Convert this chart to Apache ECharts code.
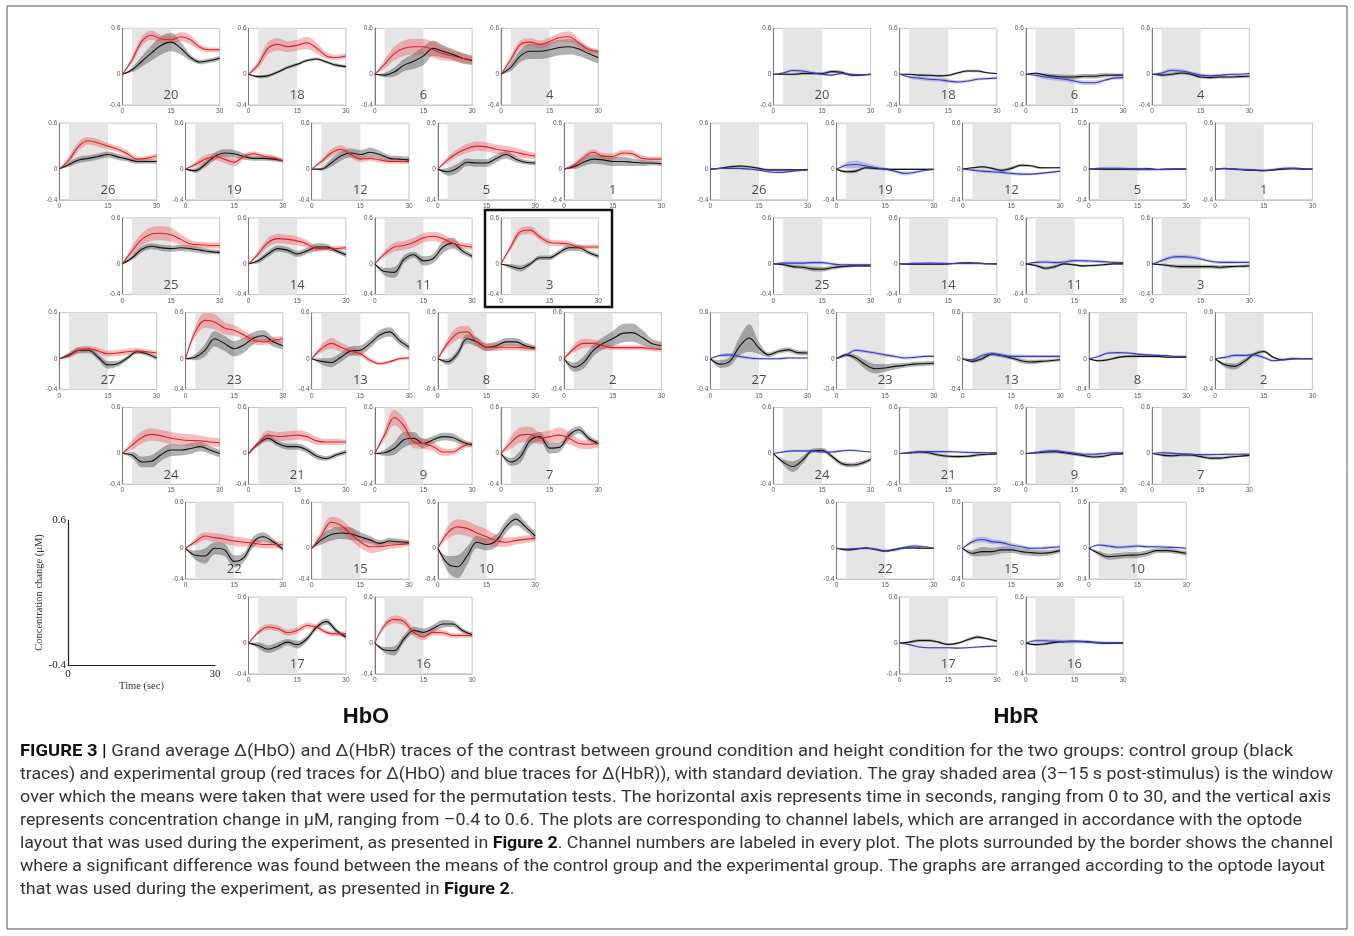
<!DOCTYPE html>
<html><head><meta charset="utf-8">
<script src="https://cdn.jsdelivr.net/npm/echarts@6/dist/echarts.min.js"></script>
<style>html,body{margin:0;padding:0;background:#fff;}#c{width:1354px;height:936px;}</style>
</head><body><div id="c"></div>
<script>
// ---------------- DATA ----------------
const timeSec = [0,3,6,9,12,15,18,21,24,27,30];
const stimWindow = [3,15];
const channels = [20,18,6,4, 26,19,12,5,1, 25,14,11,3, 27,23,13,8,2, 24,21,9,7, 22,15,10, 17,16];
const significantHbO = [3];
const yTickValues = [-0.4,0,0.6];
const yTickLabels = ['-0.4','0','0.6'];
const xTickValues = [0,15,30];
const xTickLabels = ['0','15','30'];
const panelTitles = ['HbO','HbR'];

const hboCtrlMean = [
[0,0.06,0.17,0.28,0.38,0.42,0.34,0.22,0.16,0.18,0.21],
[0,-0.03,-0.02,0.03,0.09,0.13,0.18,0.2,0.16,0.12,0.1],
[0,-0.01,0.03,0.12,0.17,0.24,0.34,0.3,0.26,0.21,0.18],
[0,0.09,0.24,0.3,0.3,0.32,0.35,0.36,0.33,0.27,0.22],
[0,0.06,0.12,0.14,0.165,0.19,0.16,0.13,0.1,0.1,0.1],
[0,-0.02,0.06,0.165,0.21,0.2,0.165,0.14,0.14,0.13,0.11],
[0,0,0.08,0.17,0.21,0.19,0.22,0.19,0.14,0.13,0.12],
[0,-0.035,0.01,0.09,0.08,0.08,0.14,0.19,0.13,0.09,0.08],
[0,0.03,0.09,0.13,0.12,0.1,0.1,0.09,0.08,0.08,0.07],
[0,0.08,0.19,0.23,0.21,0.2,0.21,0.2,0.18,0.16,0.15],
[0,0.04,0.13,0.2,0.18,0.13,0.17,0.22,0.22,0.17,0.12],
[0,-0.1,-0.11,0.06,0.12,0.04,0.07,0.22,0.27,0.17,0.1],
[0,-0.03,-0.06,0.0,0.08,0.08,0.15,0.21,0.21,0.15,0.1],
[0,0.05,0.11,0.11,0.02,-0.08,-0.065,0.01,0.09,0.065,0.01],
[0,0.02,0.11,0.26,0.2,0.13,0.18,0.27,0.3,0.22,0.17],
[0,-0.035,-0.05,0.02,0.1,0.11,0.2,0.31,0.35,0.24,0.15],
[0,-0.04,0.065,0.26,0.22,0.15,0.17,0.22,0.22,0.17,0.14],
[0,-0.11,-0.05,0.11,0.2,0.26,0.33,0.34,0.28,0.2,0.17],
[0,-0.02,-0.11,-0.1,-0.013,0.045,0.045,0.065,0.09,0.045,0.0],
[0,0.13,0.2,0.13,0.09,0.09,0.045,-0.035,-0.065,-0.02,0.02],
[0,0.01,0.065,0.18,0.2,0.13,0.18,0.22,0.21,0.15,0.11],
[0,-0.11,-0.04,0.17,0.22,0.07,0.08,0.24,0.31,0.2,0.13],
[0,-0.09,-0.1,0.0,-0.02,-0.17,-0.12,0.086,0.15,0.086,-0.01],
[0,0.11,0.18,0.2,0.19,0.15,0.11,0.065,0.095,0.086,0.075],
[0,-0.2,-0.24,-0.1,0.08,0.05,0.1,0.28,0.38,0.28,0.16],
[0,-0.03,-0.08,-0.04,0.013,-0.02,0.057,0.21,0.28,0.165,0.08],
[0,-0.09,-0.1,0.057,0.165,0.14,0.19,0.25,0.25,0.165,0.11]
];
const hboCtrlSd = [
[0,0.03,0.07,0.1,0.12,0.12,0.08,0.04,0.03,0.03,0.03],
[0,0.02,0.02,0.02,0.02,0.02,0.02,0.02,0.02,0.02,0.02],
[0,0.03,0.06,0.08,0.1,0.12,0.1,0.08,0.07,0.07,0.06],
[0,0.05,0.08,0.1,0.1,0.1,0.1,0.1,0.09,0.08,0.08],
[0,0.03,0.04,0.04,0.04,0.04,0.04,0.03,0.03,0.03,0.03],
[0,0.03,0.04,0.05,0.05,0.05,0.04,0.03,0.03,0.03,0.02],
[0,0.02,0.05,0.06,0.06,0.06,0.06,0.05,0.04,0.04,0.04],
[0,0.05,0.06,0.05,0.05,0.05,0.05,0.05,0.04,0.03,0.03],
[0,0.03,0.05,0.06,0.06,0.06,0.06,0.05,0.04,0.03,0.03],
[0,0.03,0.04,0.04,0.04,0.04,0.04,0.04,0.04,0.03,0.03],
[0,0.03,0.04,0.04,0.04,0.04,0.04,0.05,0.04,0.03,0.03],
[0,0.05,0.07,0.05,0.04,0.06,0.06,0.08,0.07,0.04,0.03],
[0,0.03,0.04,0.03,0.03,0.03,0.03,0.04,0.04,0.03,0.03],
[0,0.03,0.04,0.04,0.04,0.05,0.04,0.03,0.03,0.03,0.03],
[0,0.04,0.08,0.1,0.1,0.1,0.1,0.08,0.07,0.06,0.05],
[0,0.04,0.06,0.06,0.06,0.06,0.06,0.06,0.06,0.05,0.04],
[0,0.04,0.05,0.06,0.06,0.05,0.05,0.05,0.05,0.04,0.03],
[0,0.06,0.08,0.08,0.08,0.1,0.12,0.12,0.1,0.06,0.05],
[0,0.04,0.07,0.08,0.08,0.08,0.07,0.07,0.06,0.05,0.05],
[0,0.03,0.04,0.04,0.04,0.04,0.04,0.04,0.03,0.03,0.03],
[0,0.04,0.08,0.1,0.08,0.06,0.05,0.05,0.05,0.04,0.03],
[0,0.05,0.08,0.07,0.06,0.07,0.06,0.06,0.05,0.04,0.03],
[0,0.06,0.1,0.08,0.08,0.08,0.06,0.07,0.06,0.04,0.03],
[0,0.06,0.08,0.08,0.08,0.06,0.05,0.04,0.04,0.04,0.03],
[0,0.1,0.15,0.12,0.08,0.08,0.08,0.08,0.08,0.06,0.05],
[0,0.04,0.05,0.05,0.04,0.05,0.04,0.04,0.04,0.03,0.03],
[0,0.04,0.06,0.05,0.05,0.05,0.05,0.05,0.04,0.03,0.03]
];
const hboExpMean = [
[0,0.19,0.43,0.51,0.46,0.45,0.49,0.45,0.35,0.32,0.32],
[0,0.13,0.34,0.39,0.36,0.38,0.41,0.34,0.24,0.22,0.24],
[0,0.13,0.27,0.34,0.36,0.36,0.32,0.27,0.24,0.21,0.19],
[0,0.19,0.39,0.42,0.39,0.43,0.48,0.49,0.41,0.32,0.3],
[0,0.12,0.3,0.37,0.34,0.3,0.26,0.2,0.13,0.14,0.17],
[0,0.06,0.13,0.165,0.13,0.09,0.165,0.2,0.17,0.15,0.11],
[0,0.1,0.21,0.26,0.19,0.13,0.14,0.12,0.1,0.1,0.1],
[0,0.12,0.21,0.27,0.3,0.29,0.26,0.24,0.22,0.19,0.17],
[0,0.05,0.15,0.22,0.17,0.165,0.21,0.2,0.14,0.13,0.13],
[0,0.17,0.32,0.39,0.4,0.38,0.32,0.26,0.25,0.24,0.24],
[0,0.13,0.28,0.33,0.32,0.3,0.26,0.2,0.2,0.2,0.21],
[0,0.13,0.22,0.24,0.28,0.34,0.36,0.33,0.27,0.24,0.22],
[0,0.22,0.42,0.44,0.35,0.28,0.27,0.26,0.22,0.22,0.22],
[0,0.04,0.11,0.13,0.1,0.065,0.075,0.09,0.1,0.09,0.075],
[0,0.35,0.5,0.48,0.4,0.37,0.31,0.24,0.22,0.24,0.26],
[0,0.13,0.2,0.15,0.1,0.065,-0.02,-0.065,-0.04,0.0,0.01],
[0,0.2,0.33,0.35,0.22,0.15,0.15,0.15,0.15,0.14,0.13],
[0,0.13,0.2,0.2,0.17,0.145,0.145,0.145,0.145,0.13,0.12],
[0,0.11,0.21,0.25,0.23,0.2,0.18,0.17,0.165,0.15,0.14],
[0,0.13,0.24,0.22,0.23,0.24,0.22,0.165,0.15,0.15,0.15],
[0,0.24,0.47,0.36,0.15,0.13,0.09,0.02,0.02,0.09,0.13],
[0,0.14,0.24,0.25,0.2,0.22,0.24,0.2,0.13,0.12,0.13],
[0,0.086,0.16,0.14,0.12,0.095,0.08,0.065,0.05,0.05,0.05],
[0,0.17,0.34,0.3,0.19,0.086,0.02,0.02,0.04,0.05,0.065],
[0,0.2,0.28,0.26,0.2,0.15,0.1,0.08,0.1,0.12,0.13],
[0,0.14,0.21,0.19,0.135,0.165,0.23,0.21,0.14,0.12,0.12],
[0,0.23,0.31,0.28,0.14,0.08,0.14,0.135,0.1,0.1,0.1]
];
const hboExpSd = [
[0,0.04,0.06,0.06,0.05,0.05,0.06,0.06,0.04,0.03,0.03],
[0,0.05,0.08,0.08,0.07,0.07,0.08,0.07,0.04,0.03,0.03],
[0,0.06,0.09,0.1,0.1,0.1,0.1,0.09,0.07,0.06,0.05],
[0,0.05,0.05,0.05,0.05,0.05,0.06,0.07,0.05,0.04,0.03],
[0,0.04,0.06,0.05,0.05,0.04,0.04,0.04,0.03,0.03,0.03],
[0,0.03,0.05,0.05,0.05,0.05,0.04,0.03,0.03,0.03,0.02],
[0,0.03,0.05,0.05,0.04,0.04,0.03,0.03,0.03,0.03,0.03],
[0,0.04,0.05,0.06,0.06,0.06,0.06,0.06,0.06,0.05,0.04],
[0,0.03,0.04,0.04,0.04,0.04,0.04,0.04,0.04,0.03,0.03],
[0,0.06,0.08,0.09,0.09,0.09,0.07,0.05,0.04,0.04,0.04],
[0,0.04,0.06,0.06,0.06,0.06,0.05,0.04,0.03,0.03,0.03],
[0,0.04,0.06,0.06,0.06,0.06,0.06,0.06,0.05,0.04,0.04],
[0,0.04,0.05,0.05,0.04,0.04,0.04,0.04,0.03,0.03,0.03],
[0,0.03,0.04,0.04,0.04,0.04,0.04,0.04,0.04,0.03,0.03],
[0,0.07,0.1,0.1,0.08,0.07,0.06,0.05,0.04,0.04,0.04],
[0,0.05,0.07,0.06,0.05,0.04,0.03,0.02,0.02,0.02,0.02],
[0,0.06,0.08,0.08,0.06,0.05,0.05,0.04,0.04,0.04,0.03],
[0,0.05,0.06,0.05,0.04,0.03,0.03,0.03,0.03,0.03,0.03],
[0,0.06,0.08,0.08,0.08,0.08,0.08,0.08,0.07,0.06,0.06],
[0,0.04,0.06,0.06,0.06,0.06,0.06,0.05,0.04,0.04,0.03],
[0,0.06,0.1,0.1,0.08,0.07,0.06,0.05,0.04,0.04,0.03],
[0,0.08,0.1,0.1,0.08,0.08,0.1,0.08,0.06,0.06,0.05],
[0,0.04,0.05,0.06,0.06,0.06,0.06,0.05,0.05,0.05,0.04],
[0,0.06,0.07,0.08,0.08,0.08,0.08,0.06,0.05,0.04,0.03],
[0,0.08,0.1,0.1,0.1,0.1,0.08,0.06,0.05,0.05,0.04],
[0,0.03,0.04,0.04,0.04,0.04,0.04,0.03,0.03,0.03,0.03],
[0,0.04,0.05,0.05,0.05,0.04,0.04,0.04,0.03,0.03,0.03]
];
const hbrCtrlMean = [
[0,0,0,0.01,0.01,0.01,0.035,0.026,-0.01,-0.01,0],
[0,0,-0.01,-0.013,-0.02,-0.013,0.02,0.043,0.043,0.02,0.01],
[0,0.013,-0.01,-0.026,-0.035,-0.035,-0.026,-0.026,-0.013,-0.01,-0.01],
[0,-0.01,0,0.017,0,-0.035,-0.043,-0.035,-0.035,-0.03,-0.026],
[0,0.01,0.03,0.04,0.03,0.01,-0.01,-0.01,-0.01,-0.01,-0.005],
[0,-0.035,-0.026,0.017,0.01,0,-0.003,-0.003,-0.003,-0.003,-0.003],
[0,0.017,0.03,0.01,-0.017,0.01,0.05,0.043,0.017,0.017,0.017],
[0,0,0,0,0,0,0.005,-0.005,0,0,0],
[0,0.005,0,-0.01,-0.015,-0.02,-0.01,0,0.005,0,0],
[0,-0.01,-0.035,-0.043,-0.065,-0.07,-0.05,-0.035,-0.026,-0.026,-0.026],
[0,-0.005,-0.005,-0.005,-0.003,0,0.01,0.015,0.01,0.003,0],
[0,-0.02,-0.056,-0.035,0,-0.013,-0.026,-0.02,-0.01,0,0],
[0,-0.01,-0.026,-0.035,-0.035,-0.035,-0.035,-0.043,-0.035,-0.03,-0.026],
[0,-0.07,-0.035,0.16,0.27,0.14,0.05,0.095,0.115,0.08,0.075],
[0,0.05,0.01,-0.08,-0.13,-0.12,-0.1,-0.087,-0.07,-0.065,-0.06],
[0,-0.035,0,0.06,0.043,0.01,-0.026,-0.043,-0.035,-0.026,-0.013],
[0,-0.026,-0.013,0.017,0.03,0.03,0.03,0.03,0.02,0.02,0.02],
[0,-0.08,-0.1,-0.035,0.06,0.095,0.017,-0.013,0,0,0],
[0,-0.11,-0.17,-0.087,0.035,0.043,-0.035,-0.13,-0.15,-0.13,-0.078],
[0,0.01,0.02,0.01,-0.02,-0.035,-0.04,-0.035,-0.02,-0.01,-0.005],
[0,0.01,0.02,0.025,0.01,-0.01,-0.03,-0.045,-0.035,-0.01,-0.005],
[0,-0.02,-0.03,-0.02,-0.02,-0.04,-0.06,-0.06,-0.045,-0.035,-0.025],
[0,-0.02,-0.01,0.005,-0.015,-0.035,-0.015,0.005,0.005,0,0],
[0,-0.065,-0.043,-0.043,-0.02,-0.02,-0.043,-0.056,-0.065,-0.056,-0.03],
[0,-0.065,-0.11,-0.1,-0.09,-0.087,-0.065,-0.03,-0.03,-0.043,-0.065],
[0,0.013,0.035,0.035,0.013,-0.017,0,0.043,0.078,0.056,0.026],
[0,-0.02,-0.01,0.01,0.02,0.025,0.02,0.01,0,0,0]
];
const hbrCtrlSd = [
[0,0.01,0.015,0.02,0.02,0.02,0.02,0.02,0.02,0.015,0.015],
[0,0.01,0.015,0.015,0.015,0.015,0.015,0.015,0.015,0.01,0.01],
[0,0.01,0.02,0.03,0.03,0.03,0.03,0.03,0.03,0.02,0.02],
[0,0.02,0.02,0.02,0.02,0.02,0.02,0.02,0.02,0.02,0.02],
[0,0.01,0.015,0.015,0.015,0.015,0.015,0.015,0.015,0.01,0.01],
[0,0.02,0.02,0.015,0.015,0.015,0.01,0.01,0.01,0.01,0.01],
[0,0.01,0.015,0.015,0.02,0.02,0.02,0.015,0.015,0.01,0.01],
[0,0.01,0.015,0.015,0.015,0.015,0.015,0.01,0.01,0.01,0.01],
[0,0.01,0.01,0.01,0.01,0.01,0.01,0.01,0.01,0.01,0.01],
[0,0.015,0.02,0.025,0.03,0.03,0.025,0.02,0.02,0.015,0.015],
[0,0.01,0.01,0.01,0.01,0.01,0.01,0.01,0.01,0.01,0.01],
[0,0.015,0.02,0.02,0.015,0.015,0.015,0.015,0.015,0.01,0.01],
[0,0.015,0.02,0.025,0.025,0.025,0.025,0.025,0.02,0.02,0.02],
[0,0.05,0.06,0.12,0.18,0.08,0.03,0.03,0.03,0.03,0.03],
[0,0.02,0.04,0.06,0.06,0.05,0.04,0.03,0.03,0.03,0.03],
[0,0.02,0.025,0.025,0.025,0.025,0.03,0.03,0.025,0.02,0.02],
[0,0.015,0.015,0.015,0.015,0.015,0.015,0.015,0.015,0.01,0.01],
[0,0.03,0.04,0.035,0.025,0.02,0.015,0.015,0.015,0.01,0.01],
[0,0.04,0.07,0.05,0.03,0.03,0.03,0.03,0.03,0.03,0.02],
[0,0.015,0.02,0.02,0.02,0.02,0.02,0.02,0.02,0.015,0.015],
[0,0.015,0.02,0.02,0.02,0.02,0.02,0.02,0.02,0.015,0.015],
[0,0.015,0.02,0.02,0.02,0.02,0.02,0.02,0.02,0.015,0.015],
[0,0.015,0.015,0.015,0.015,0.015,0.015,0.015,0.015,0.01,0.01],
[0,0.04,0.06,0.05,0.045,0.04,0.04,0.04,0.04,0.035,0.03],
[0,0.03,0.04,0.04,0.04,0.04,0.04,0.03,0.03,0.03,0.03],
[0,0.015,0.02,0.02,0.015,0.015,0.015,0.02,0.02,0.015,0.015],
[0,0.015,0.015,0.015,0.015,0.015,0.015,0.015,0.015,0.01,0.01]
];
const hbrExpMean = [
[0,0.017,0.05,0.043,0.02,0,-0.01,0.01,0,-0.01,0],
[0,-0.035,-0.05,-0.065,-0.07,-0.087,-0.1,-0.087,-0.065,-0.056,-0.05],
[0,-0.013,-0.035,-0.05,-0.065,-0.087,-0.11,-0.11,-0.08,-0.05,-0.043],
[0,0.017,0.05,0.043,0.02,-0.01,-0.02,-0.013,0,0,0.01],
[0,0.01,0.01,0.01,0,-0.013,-0.035,-0.043,-0.035,-0.02,-0.013],
[0,0.05,0.06,0.043,0.017,0,-0.026,-0.056,-0.043,-0.017,-0.004],
[0,-0.013,-0.026,-0.035,-0.043,-0.056,-0.065,-0.065,-0.056,-0.043,-0.026],
[0,0.01,0.012,0.01,0.005,0,-0.005,-0.005,-0.005,0,0],
[0,0.01,0,-0.005,-0.01,-0.015,-0.005,0.01,0.015,0.005,0],
[0,0.01,0.01,0.01,0.017,0.017,0,-0.01,-0.01,-0.01,-0.01],
[0,0.005,0.008,0.01,0.008,0.005,0.005,0.005,0.005,0.003,0],
[0,0.02,0.026,0.017,0.026,0.043,0.04,0.035,0.03,0.02,0.017],
[0,0.043,0.087,0.095,0.087,0.065,0.035,0.02,0.02,0.02,0.02],
[0,0.043,0.05,0.03,0.01,0,0,0,0.01,0.01,0.01],
[0,0.05,0.11,0.095,0.075,0.05,0.03,0.01,0.017,0.03,0.03],
[0,-0.013,0.043,0.06,0.043,0.03,0.03,0.03,0.03,0.03,0.03],
[0,0.03,0.075,0.08,0.075,0.06,0.05,0.043,0.04,0.03,0.03],
[0,0.017,0.043,0.043,0.05,0.017,-0.026,-0.013,0,0,0],
[0,0.02,0.035,0.035,0.035,0.02,0.02,0.035,0.043,0.03,0.02],
[0,0.01,0.02,0.025,0.025,0.025,0.02,0.015,0.012,0.01,0.01],
[0,0.01,0.03,0.035,0.02,0.005,-0.01,-0.01,0,0.01,0.01],
[0,0.01,0.005,-0.005,-0.01,-0.015,-0.015,-0.012,-0.01,-0.01,-0.008],
[0,-0.01,-0.005,0,-0.01,-0.035,-0.02,0.01,0.03,0.02,0],
[0,0.087,0.115,0.087,0.074,0.043,0.02,0,0,0.01,0.02],
[0,0.043,0.03,0.013,0.02,0.03,0.02,0.02,0.013,0.01,0],
[0,-0.02,-0.05,-0.06,-0.06,-0.06,-0.065,-0.06,-0.05,-0.043,-0.04],
[0,0.03,0.03,0.025,0.02,0.02,0.02,0.01,0.005,0.005,0.005]
];
const hbrExpSd = [
[0,0.015,0.02,0.02,0.02,0.015,0.015,0.015,0.015,0.01,0.01],
[0,0.02,0.025,0.025,0.025,0.025,0.02,0.02,0.02,0.015,0.015],
[0,0.02,0.03,0.03,0.03,0.03,0.03,0.03,0.02,0.02,0.02],
[0,0.02,0.025,0.025,0.02,0.02,0.02,0.02,0.015,0.015,0.015],
[0,0.01,0.015,0.015,0.015,0.015,0.015,0.015,0.015,0.01,0.01],
[0,0.04,0.05,0.04,0.03,0.02,0.02,0.025,0.02,0.015,0.015],
[0,0.015,0.02,0.02,0.02,0.02,0.02,0.015,0.015,0.015,0.01],
[0,0.015,0.02,0.02,0.02,0.02,0.02,0.015,0.015,0.01,0.01],
[0,0.01,0.015,0.015,0.015,0.015,0.015,0.015,0.015,0.01,0.01],
[0,0.02,0.02,0.02,0.02,0.02,0.02,0.015,0.015,0.015,0.015],
[0,0.015,0.015,0.015,0.015,0.015,0.015,0.015,0.015,0.01,0.01],
[0,0.015,0.02,0.02,0.02,0.02,0.02,0.02,0.015,0.015,0.015],
[0,0.02,0.025,0.025,0.025,0.02,0.02,0.02,0.02,0.015,0.015],
[0,0.02,0.025,0.02,0.02,0.015,0.015,0.015,0.015,0.01,0.01],
[0,0.02,0.02,0.02,0.02,0.02,0.02,0.02,0.02,0.015,0.015],
[0,0.02,0.025,0.025,0.025,0.025,0.025,0.02,0.02,0.02,0.02],
[0,0.015,0.015,0.015,0.015,0.015,0.015,0.015,0.015,0.01,0.01],
[0,0.02,0.02,0.02,0.02,0.02,0.015,0.015,0.015,0.01,0.01],
[0,0.015,0.015,0.015,0.015,0.015,0.015,0.015,0.015,0.01,0.01],
[0,0.015,0.015,0.015,0.015,0.015,0.015,0.015,0.015,0.01,0.01],
[0,0.015,0.02,0.02,0.02,0.02,0.02,0.02,0.015,0.015,0.015],
[0,0.015,0.015,0.015,0.015,0.015,0.015,0.015,0.015,0.01,0.01],
[0,0.015,0.015,0.015,0.015,0.015,0.02,0.02,0.02,0.015,0.01],
[0,0.03,0.035,0.035,0.03,0.03,0.025,0.02,0.02,0.02,0.02],
[0,0.015,0.02,0.02,0.02,0.02,0.02,0.02,0.02,0.015,0.015],
[0,0.01,0.01,0.01,0.01,0.01,0.01,0.01,0.01,0.01,0.01],
[0,0.02,0.025,0.025,0.025,0.025,0.025,0.02,0.02,0.015,0.015]
];
const refAxisX = ['0','30'];
const refAxisY = ['-0.4','0.6'];
const refXName = 'Time (sec)';
const refYName = 'Concentration change (\u03bcM)';
const captionLines = [
'{b|FIGURE 3 |} Grand average \u0394(HbO) and \u0394(HbR) traces of the contrast between ground condition and height condition for the two groups: control group (black',
'traces) and experimental group (red traces for \u0394(HbO) and blue traces for \u0394(HbR)), with standard deviation. The gray shaded area (3\u201315 s post-stimulus) is the window',
'over which the means were taken that were used for the permutation tests. The horizontal axis represents time in seconds, ranging from 0 to 30, and the vertical axis',
'represents concentration change in \u03bcM, ranging from \u20130.4 to 0.6. The plots are corresponding to channel labels, which are arranged in accordance with the optode',
'layout that was used during the experiment, as presented in {b|Figure 2}. Channel numbers are labeled in every plot. The plots surrounded by the border shows the channel',
'where a significant difference was found between the means of the control group and the experimental group. The graphs are arranged according to the optode layout',
'that was used during the experiment, as presented in {b|Figure 2}.'
];

// ---------------- LAYOUT / STYLE ----------------
const rowsHalfCols = [[1,3,5,7],[0,2,4,6,8],[1,3,5,7],[0,2,4,6,8],[1,3,5,7],[2,4,6],[3,5]];
const PW = 97.3, PH = 76.7, X0 = 59.3, DX = 63.1, Y0 = 28.3, DY = 94.8, HBR_OFF = 651;
const captionRight = [1293,1333,1331,1302,1333,1325,null];
const CAP_FS = 16, CAP_FONT = 'Roboto';
const timeCats = timeSec.map(String);

const positions = [];
rowsHalfCols.forEach((cols, r) => cols.forEach(c => positions.push([X0 + DX * c, Y0 + DY * r])));

const grid = [], xAxis = [], yAxis = [], series = [], graphic = [];
let gi = 0;

function yFmt(v) {
  for (let k = 0; k < yTickValues.length; k++) if (Math.abs(v - yTickValues[k]) < 1e-6) return yTickLabels[k];
  return '';
}
function xShow(index, value) { return xTickValues.indexOf(Number(value)) >= 0; }
function xFmt(value) { const k = xTickValues.indexOf(Number(value)); return k >= 0 ? xTickLabels[k] : ''; }

function addPanel(left, top, ch, cM, cS, eM, eS, eLine, eBand) {
  const i = gi++;
  grid.push({left, top, width: PW, height: PH, show: true, borderColor: '#c4c4c4', borderWidth: 1, backgroundColor: 'transparent'});
  xAxis.push({gridIndex: i, type: 'category', data: timeCats, boundaryGap: false,
    axisLine: {show: true, onZero: false, lineStyle: {color: '#c4c4c4', width: 1}},
    axisTick: {show: false}, splitLine: {show: false},
    axisLabel: {fontSize: 6.5, color: '#555', margin: 3, fontFamily: 'Liberation Sans', interval: xShow, formatter: xFmt}});
  yAxis.push({gridIndex: i, type: 'value', min: -0.4, max: 0.6, interval: 0.2,
    axisLine: {show: true, onZero: false, lineStyle: {color: '#7a7a7a', width: 1}},
    axisTick: {show: false}, splitLine: {show: false},
    axisLabel: {fontSize: 6.5, color: '#555', margin: 2, fontFamily: 'Liberation Sans', formatter: yFmt}});
  const base = {xAxisIndex: i, yAxisIndex: i, symbol: 'none', showSymbol: false, silent: true, smooth: 0.35, animation: false};
  series.push(Object.assign({}, base, {type: 'line', z: 1, data: [0], lineStyle: {opacity: 0, width: 0},
    markArea: {silent: true, itemStyle: {color: '#e5e5e5'}, data: [[{xAxis: String(stimWindow[0])}, {xAxis: String(stimWindow[1])}]]}}));
  function band(m, s, color, key) {
    series.push(Object.assign({}, base, {type: 'line', z: 2, stack: key + i, stackStrategy: 'all',
      data: m.map((v, k) => v - s[k]), lineStyle: {opacity: 0, width: 0}}));
    series.push(Object.assign({}, base, {type: 'line', z: 2, stack: key + i, stackStrategy: 'all',
      data: s.map(v => 2 * v), lineStyle: {opacity: 0, width: 0},
      areaStyle: {color: color, opacity: 1}}));
  }
  band(cM, cS, 'rgba(70,70,70,0.42)', 'c');
  band(eM, eS, eBand, 'e');
  series.push(Object.assign({}, base, {type: 'line', z: 3, data: cM.slice(), lineStyle: {color: '#111', width: 1.1}}));
  series.push(Object.assign({}, base, {type: 'line', z: 3, data: eM.slice(), lineStyle: {color: eLine, width: 1.1}}));
  series.push({type: 'scatter', xAxisIndex: i, yAxisIndex: i, silent: true, z: 4, symbolSize: 0, animation: false,
    data: [['15', -0.28]],
    label: {show: true, position: 'inside', formatter: String(ch), fontSize: 13, color: '#1a1a1a', fontFamily: 'Open Sans'}});
}

channels.forEach((ch, p) => {
  const [l, t] = positions[p];
  addPanel(l, t, ch, hboCtrlMean[p], hboCtrlSd[p], hboExpMean[p], hboExpSd[p], '#e0202a', 'rgba(232,70,70,0.36)');
  if (significantHbO.includes(ch)) {
    graphic.push({type: 'rect', shape: {x: l - 16, y: t - 8, width: PW + 29.7, height: PH + 20.5},
      style: {fill: 'none', stroke: '#111', lineWidth: 2.5}, z: 100});
  }
});
channels.forEach((ch, p) => {
  const [l, t] = positions[p];
  addPanel(l + HBR_OFF, t, ch, hbrCtrlMean[p], hbrCtrlSd[p], hbrExpMean[p], hbrExpSd[p], '#3a3ac4', 'rgba(90,90,215,0.32)');
});

// reference axes panel
(function () {
  const i = gi++;
  grid.push({left: 68, top: 520, width: 147, height: 145, show: false});
  xAxis.push({gridIndex: i, type: 'value', min: 0, max: 30, interval: 30,
    axisLine: {show: true, onZero: false, lineStyle: {color: '#222', width: 1.2}}, axisTick: {show: false}, splitLine: {show: false},
    axisLabel: {fontSize: 11, color: '#222', margin: 4, fontFamily: 'Liberation Serif', formatter: v => (v === 0 ? refAxisX[0] : refAxisX[1])},
    name: refXName, nameLocation: 'middle', nameGap: 10, nameTextStyle: {fontSize: 10.5, color: '#333', fontFamily: 'Liberation Serif'}});
  yAxis.push({gridIndex: i, type: 'value', min: -0.4, max: 0.6, interval: 0.2,
    axisLine: {show: true, onZero: false, lineStyle: {color: '#222', width: 1.2}}, axisTick: {show: false}, splitLine: {show: false},
    axisLabel: {fontSize: 11, color: '#222', margin: 2, fontFamily: 'Liberation Serif',
      formatter: v => (Math.abs(v + 0.4) < 1e-6 ? refAxisY[0] : (Math.abs(v - 0.6) < 1e-6 ? refAxisY[1] : ''))},
    name: refYName, nameLocation: 'middle', nameGap: 16, nameRotate: 90,
    nameTextStyle: {fontSize: 10.5, color: '#333', fontFamily: 'Liberation Serif'}});
  series.push({type: 'line', xAxisIndex: i, yAxisIndex: i, data: [], silent: true});
})();

// titles
graphic.push({type: 'text', x: 366, y: 717, style: {text: panelTitles[0], font: 'bold 22px "Liberation Sans"', fill: '#111', align: 'center', verticalAlign: 'middle'}});
graphic.push({type: 'text', x: 1016, y: 717, style: {text: panelTitles[1], font: 'bold 22px "Liberation Sans"', fill: '#111', align: 'center', verticalAlign: 'middle'}});

// outer frame
graphic.push({type: 'rect', shape: {x: 7, y: 6, width: 1340, height: 923}, style: {fill: 'none', stroke: '#555', lineWidth: 1}, z: 0});

// caption, each line stretched to its measured width in the reference
(function () {
  const ctx = document.createElement('canvas').getContext('2d');
  function natural(line) {
    let w = 0; const re = /\{b\|([^}]*)\}|([^{]+)/g; let m;
    while ((m = re.exec(line))) {
      if (m[1] !== undefined) { ctx.font = 'bold ' + CAP_FS + 'px ' + CAP_FONT; w += ctx.measureText(m[1]).width; }
      else { ctx.font = CAP_FS + 'px ' + CAP_FONT; w += ctx.measureText(m[2]).width; }
    }
    return w;
  }
  const scales = captionLines.map((ln, k) => captionRight[k] ? (captionRight[k] - 20) / natural(ln) : null);
  const valid = scales.filter(s => s);
  const avg = valid.reduce((a, b) => a + b, 0) / valid.length;
  captionLines.forEach((ln, k) => {
    graphic.push({type: 'text', x: 20, y: 752 + 23 * k, scaleX: scales[k] || avg, scaleY: 1, originX: 0, originY: 0,
      style: {text: ln, x: 0, y: 0, fontSize: CAP_FS, fontFamily: CAP_FONT, fill: '#333', verticalAlign: 'middle', align: 'left',
        rich: {b: {fontWeight: 'bold', fontSize: CAP_FS, fontFamily: CAP_FONT, fill: '#111'}}}});
  });
})();

const chart = echarts.init(document.getElementById('c'), null, {renderer: 'canvas'});
chart.setOption({animation: false, backgroundColor: '#fff', grid, xAxis, yAxis, series, graphic});
</script></body></html>
